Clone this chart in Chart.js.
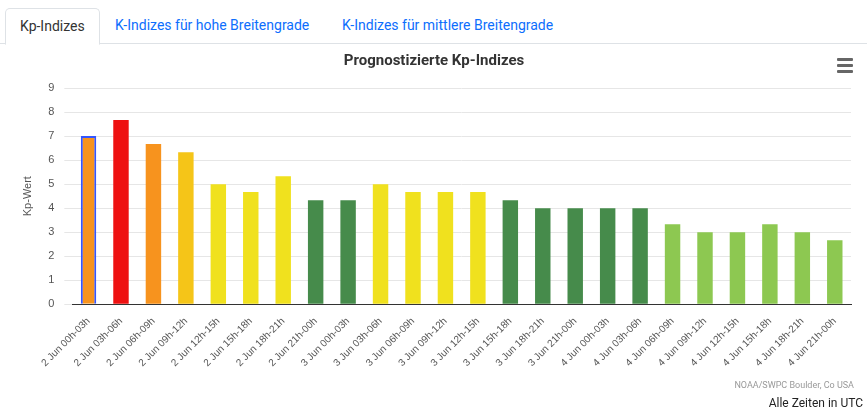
<!DOCTYPE html>
<html><head><meta charset="utf-8">
<script src="https://cdn.jsdelivr.net/npm/chart.js@4/dist/chart.umd.min.js"></script>
<style>
body{margin:0;font-family:"Segoe UI",Roboto,"Noto Sans",sans-serif;background:#fff;width:867px;height:417px;overflow:hidden;position:relative}
.tabs{position:absolute;left:0;top:0;width:867px;height:43px;border-bottom:1px solid #dee2e6}
.tab{position:absolute;top:8px;height:35px;line-height:35px;font-size:14px;color:#0d6efd;padding:0 14px}
.tab.active{color:#333;border:1px solid #dee2e6;border-bottom:1px solid #fff;border-radius:5px 5px 0 0;background:#fff;height:35px}
#wrap{position:absolute;left:0;top:44px;width:867px;height:352px}
.menu{position:absolute;right:14px;top:58px;width:16px}
.menu div{height:3px;background:#666;margin-bottom:3px;border-radius:1px}
.credit{position:absolute;right:13px;top:380px;font-size:9px;color:#999}
.utc{position:absolute;right:4px;top:396px;font-size:12px;color:#222}
</style></head><body>
<div class="tabs">
<div class="tab active" style="left:5px">Kp-Indizes</div>
<div class="tab" style="left:101px">K-Indizes für hohe Breitengrade</div>
<div class="tab" style="left:328px">K-Indizes für mittlere Breitengrade</div>
</div>
<div id="wrap"><canvas id="c"></canvas></div>
<div class="menu"><div></div><div></div><div></div></div>
<div class="credit">NOAA/SWPC Boulder, Co USA</div>
<div class="utc">Alle Zeiten in UTC</div>
<script>
const categories=["2 Jun 00h-03h","2 Jun 03h-06h","2 Jun 06h-09h","2 Jun 09h-12h","2 Jun 12h-15h","2 Jun 15h-18h","2 Jun 18h-21h","2 Jun 21h-00h","3 Jun 00h-03h","3 Jun 03h-06h","3 Jun 06h-09h","3 Jun 09h-12h","3 Jun 12h-15h","3 Jun 15h-18h","3 Jun 18h-21h","3 Jun 21h-00h","4 Jun 00h-03h","4 Jun 03h-06h","4 Jun 06h-09h","4 Jun 09h-12h","4 Jun 12h-15h","4 Jun 15h-18h","4 Jun 18h-21h","4 Jun 21h-00h"];
const kpValues=[7.00,7.67,6.67,6.33,5.00,4.67,5.33,4.33,4.33,5.00,4.67,4.67,4.67,4.33,4.00,4.00,4.00,4.00,3.33,3.00,3.00,3.33,3.00,2.67];
const yTicks=[0,1,2,3,4,5,6,7,8,9];
function colorFor(v){
 if(v>=7.5)return "#ee1111";
 if(v>=6.5)return "#f7931e";
 if(v>=6)return "#f5c518";
 if(v>=4.5)return "#f0e11e";
 if(v>=3.67)return "#468b4b";
 return "#8dc851";
}
const colors=kpValues.map(colorFor);
new Chart(document.getElementById('c'),{
 type:'bar',
 data:{labels:categories,datasets:[{data:kpValues,backgroundColor:colors,
  borderColor:kpValues.map((v,i)=>i===0?'#3355ff':'rgba(0,0,0,0)'),
  borderWidth:kpValues.map((v,i)=>i===0?2:0),categoryPercentage:0.85,barPercentage:0.56}]},
 options:{responsive:true,maintainAspectRatio:false,animation:false,
  layout:{padding:{left:17,right:16,top:0,bottom:24}},
  plugins:{legend:{display:false},tooltip:{enabled:false},
   title:{display:true,text:'Prognostizierte Kp-Indizes',color:'#333',font:{size:15,weight:'bold',family:'"Segoe UI",Roboto,sans-serif'},padding:{top:8,bottom:18}}},
  scales:{
   x:{grid:{display:false},border:{color:'#333'},
    ticks:{color:'#555',font:{size:10},maxRotation:45,minRotation:45,autoSkip:false}},
   y:{min:0,max:9,afterBuildTicks:s=>{s.ticks=yTicks.map(v=>({value:v}));},
    grid:{color:'#e6e6e6'},border:{display:false},
    ticks:{color:'#555',font:{size:11},padding:10},
    title:{display:true,text:'Kp-Wert',color:'#555',font:{size:11}}}
  }}
});
</script>
</body></html>
